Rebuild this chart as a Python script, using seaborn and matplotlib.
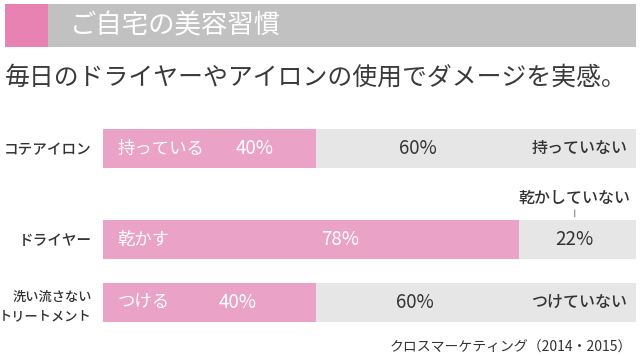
import matplotlib
matplotlib.use('Agg')
import matplotlib.pyplot as plt
from matplotlib.patches import Rectangle
import pandas as pd
import seaborn as sns

# data
items = ['コテアイロン', 'ドライヤー', '洗い流さない\nトリートメント']
yes_pct = [40, 78, 40]
no_pct = [60, 22, 60]
yes_labels = ['持っている', '乾かす', 'つける']
no_labels = ['持っていない', '乾かしていない', 'つけていない']

header = 'ご自宅の美容習慣'
subtitle = '毎日のドライヤーやアイロンの使用でダメージを実感。'
source = 'クロスマーケティング（2014・2015）'

# layout (row centres in row units, label x in percent)
row_y = [0.0, 1.44, 2.44]
bar_h = 0.62
yes_text_x = [28.5, 44.5, 25.3]
no_text_x = [59.0, 88.5, 58.5]

PINK = '#eaa3c6'
PINK_DARK = '#e882b2'
GRAY_HEAD = '#c0c1c0'
GRAY_BAR = '#e6e6e6'
TEXT = '#333333'

sns.set_theme(style='white')
plt.rcParams['font.family'] = ['Noto Sans CJK JP', 'DejaVu Sans']

df = pd.DataFrame({'item': items, 'yes': yes_pct, 'no': no_pct, 'pos': row_y})
df['total'] = df['yes'] + df['no']

W, H = 640, 356
fig = plt.figure(figsize=(6.4, 3.56), dpi=100)


def px_box(x0, y0, x1, y1):
    return [x0 / W, 1 - y1 / H, (x1 - x0) / W, (y1 - y0) / H]


# header band
fig.add_artist(Rectangle((5 / W, 1 - 47 / H), 43 / W, 43 / H,
                         transform=fig.transFigure, color=PINK_DARK, lw=0))
fig.add_artist(Rectangle((48 / W, 1 - 47 / H), 588 / W, 43 / H,
                         transform=fig.transFigure, color=GRAY_HEAD, lw=0))
fig.text(70 / W, 1 - 26 / H, header, color='white', fontsize=19,
         ha='left', va='center')
fig.text(5 / W, 1 - 78 / H, subtitle, color='#3a3a3a', fontsize=17.9,
         ha='left', va='center')

ax = fig.add_axes(px_box(103, 129, 636, 322))
sns.barplot(data=df, x='total', y='pos', orient='y', native_scale=True,
            width=bar_h, color=GRAY_BAR, saturation=1, linewidth=0,
            errorbar=None, ax=ax)
sns.barplot(data=df, x='yes', y='pos', orient='y', native_scale=True,
            width=bar_h, color=PINK, saturation=1, linewidth=0,
            errorbar=None, ax=ax)
ax.set_xlim(0, 100)
ax.set_ylim(row_y[-1] + bar_h / 2, row_y[0] - bar_h / 2)
ax.set_xticks([])
ax.set_xlabel('')
ax.set_ylabel('')
ax.set_yticks(row_y)
ax.set_yticklabels(items, color=TEXT, fontsize=10.5, linespacing=1.45,
                   fontweight='medium')
ax.get_yticklabels()[2].set_fontsize(9.5)
ax.tick_params(axis='y', length=0, pad=8)
sns.despine(ax=ax, left=True, bottom=True)

for i in range(len(items)):
    y = row_y[i]
    ax.text(2.7, y, yes_labels[i], color='white', fontsize=12.5,
            ha='left', va='center')
    ax.text(yes_text_x[i], y, f'{yes_pct[i]}%', color='white', fontsize=13.5,
            ha='center', va='center')
    ax.text(no_text_x[i], y, f'{no_pct[i]}%', color=TEXT, fontsize=13.5,
            ha='center', va='center')
    if no_pct[i] < 30:
        top = y - bar_h / 2
        ax.annotate(no_labels[i], xy=(no_text_x[i], top), xytext=(0, 15.8),
                    textcoords='offset points', ha='center', va='center',
                    color=TEXT, fontsize=11.5, fontweight='medium',
                    annotation_clip=False)
        ax.annotate('', xy=(no_text_x[i], top), xytext=(0, 7.2),
                    textcoords='offset points', annotation_clip=False,
                    arrowprops=dict(arrowstyle='-', color='#888888', lw=0.8,
                                    shrinkA=0, shrinkB=2.2))
    else:
        ax.text(98.5, y, no_labels[i], color=TEXT, fontsize=11.5,
                fontweight='medium', ha='right', va='center')

fig.text(632 / W, 1 - 348 / H, source, color=TEXT, fontsize=10,
         ha='right', va='center')

fig.savefig('out.png', dpi=100)
